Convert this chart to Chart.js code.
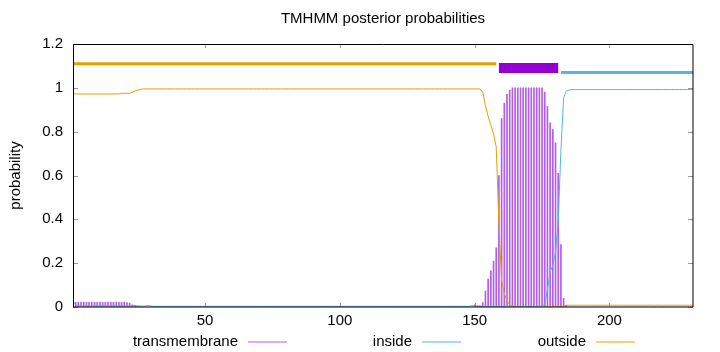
<!DOCTYPE html>
<html>
<head>
<meta charset="utf-8">
<title>TMHMM posterior probabilities</title>
<script src="https://cdn.jsdelivr.net/npm/chart.js@4/dist/chart.umd.min.js"></script>
<style>
  html, body { margin: 0; padding: 0; background: #fff; }
  #tmChart { display: block; }
</style>
</head>
<body>
<canvas id="tmChart" width="720" height="352"></canvas>
<script>
// posterior probabilities per residue (1..231)
const transmembrane = [
  0.022, 0.022, 0.022, 0.022, 0.022, 0.022, 0.022, 0.022, 0.022, 0.022, // 1-10
  0.022, 0.022, 0.022, 0.022, 0.022, 0.022, 0.022, 0.022, 0.022, 0.022, // 11-20
  0.020, 0.018, 0.010, 0.006, 0.004, 0.002, 0, 0, 0, 0,                 // 21-30
  0, 0, 0, 0, 0, 0, 0, 0, 0, 0,   // 31-40
  0, 0, 0, 0, 0, 0, 0, 0, 0, 0,   // 41-50
  0, 0, 0, 0, 0, 0, 0, 0, 0, 0,   // 51-60
  0, 0, 0, 0, 0, 0, 0, 0, 0, 0,   // 61-70
  0, 0, 0, 0, 0, 0, 0, 0, 0, 0,   // 71-80
  0, 0, 0, 0, 0, 0, 0, 0, 0, 0,   // 81-90
  0, 0, 0, 0, 0, 0, 0, 0, 0, 0,   // 91-100
  0, 0, 0, 0, 0, 0, 0, 0, 0, 0,   // 101-110
  0, 0, 0, 0, 0, 0, 0, 0, 0, 0,   // 111-120
  0, 0, 0, 0, 0, 0, 0, 0, 0, 0,   // 121-130
  0, 0, 0, 0, 0, 0, 0, 0, 0, 0,   // 131-140
  0, 0, 0, 0, 0, 0, 0, 0, 0, 0.010, // 141-150
  0.003, 0.005, 0.020, 0.073, 0.127, 0.165, 0.209, 0.270, 0.600, 0.860, // 151-160
  0.930, 0.970, 0.990, 1, 1, 1, 1, 1, 1, 1,                             // 161-170
  1, 1, 1, 1, 1, 0.980, 0.915, 0.840, 0.810, 0.750,                     // 171-180
  0.610, 0.285, 0.040, 0.008, 0, 0, 0, 0, 0, 0,                         // 181-190
  0, 0, 0, 0, 0, 0, 0, 0, 0, 0,   // 191-200
  0, 0, 0, 0, 0, 0, 0, 0, 0, 0,   // 201-210
  0, 0, 0, 0, 0, 0, 0, 0, 0, 0,   // 211-220
  0, 0, 0, 0, 0, 0, 0, 0, 0, 0,   // 221-230
  0                               // 231
];

const inside = [
  0.026, 0.010, 0.006, 0.005, 0.005, 0.005, 0.005, 0.005, 0.005, 0.005, // 1-10
  0.005, 0.005, 0.005, 0.005, 0.005, 0.005, 0.005, 0.005, 0.005, 0.005, // 11-20
  0.005, 0.005, 0.008, 0.006, 0.005, 0.004, 0.004, 0.005, 0.008, 0.004, // 21-30
  0.003, 0.003, 0.003, 0.003, 0.003, 0.003, 0.003, 0.003, 0.003, 0.003, // 31-40
  0.003, 0.003, 0.003, 0.003, 0.003, 0.003, 0.003, 0.003, 0.003, 0.003, // 41-50
  0.003, 0.003, 0.003, 0.003, 0.003, 0.003, 0.003, 0.003, 0.003, 0.003, // 51-60
  0.003, 0.003, 0.003, 0.003, 0.003, 0.003, 0.003, 0.003, 0.003, 0.003, // 61-70
  0.003, 0.003, 0.003, 0.003, 0.003, 0.003, 0.003, 0.003, 0.003, 0.003, // 71-80
  0.003, 0.003, 0.003, 0.003, 0.003, 0.003, 0.003, 0.003, 0.003, 0.003, // 81-90
  0.003, 0.003, 0.003, 0.003, 0.003, 0.003, 0.003, 0.003, 0.003, 0.003, // 91-100
  0.003, 0.003, 0.003, 0.003, 0.003, 0.003, 0.003, 0.003, 0.003, 0.003, // 101-110
  0.003, 0.003, 0.003, 0.003, 0.003, 0.003, 0.003, 0.003, 0.003, 0.003, // 111-120
  0.003, 0.003, 0.003, 0.003, 0.003, 0.003, 0.003, 0.003, 0.003, 0.003, // 121-130
  0.003, 0.003, 0.003, 0.003, 0.003, 0.003, 0.003, 0.003, 0.003, 0.003, // 131-140
  0.003, 0.003, 0.003, 0.003, 0.003, 0.003, 0.003, 0.003, 0.006, 0.006, // 141-150
  0.006, 0.004, 0.001, 0.001, 0.001, 0.001, 0.001, 0.001, 0.001, 0.001, // 151-160
  0, 0, 0, 0, 0, 0, 0, 0, 0, 0,                                         // 161-170
  0, 0, 0, 0, 0, 0.015, 0.080, 0.160, 0.190, 0.250,                     // 171-180
  0.390, 0.715, 0.955, 0.985, 0.990, 0.992, 0.992, 0.992, 0.992, 0.992, // 181-190
  0.992, 0.992, 0.992, 0.992, 0.992, 0.992, 0.992, 0.992, 0.992, 0.992, // 191-200
  0.992, 0.992, 0.992, 0.992, 0.992, 0.992, 0.992, 0.992, 0.992, 0.992, // 201-210
  0.992, 0.992, 0.992, 0.992, 0.992, 0.992, 0.992, 0.992, 0.992, 0.992, // 211-220
  0.992, 0.992, 0.992, 0.992, 0.992, 0.992, 0.992, 0.992, 0.992, 0.992, // 221-230
  0.992                                                                  // 231
];

const outside = [
  0.972, 0.972, 0.972, 0.972, 0.972, 0.972, 0.972, 0.972, 0.972, 0.972, // 1-10
  0.972, 0.972, 0.972, 0.972, 0.972, 0.972, 0.972, 0.972, 0.975, 0.975, // 11-20
  0.975, 0.975, 0.980, 0.986, 0.990, 0.993, 0.995, 0.995, 0.995, 0.995, // 21-30
  0.995, 0.995, 0.995, 0.995, 0.995, 0.995, 0.995, 0.995, 0.995, 0.995, // 31-40
  0.995, 0.995, 0.995, 0.995, 0.995, 0.995, 0.995, 0.995, 0.995, 0.995, // 41-50
  0.995, 0.995, 0.995, 0.995, 0.995, 0.995, 0.995, 0.995, 0.995, 0.995, // 51-60
  0.995, 0.995, 0.995, 0.995, 0.995, 0.995, 0.995, 0.995, 0.995, 0.995, // 61-70
  0.995, 0.995, 0.995, 0.995, 0.995, 0.995, 0.995, 0.995, 0.995, 0.995, // 71-80
  0.995, 0.995, 0.995, 0.995, 0.995, 0.995, 0.995, 0.995, 0.995, 0.995, // 81-90
  0.995, 0.995, 0.995, 0.995, 0.995, 0.995, 0.995, 0.995, 0.995, 0.995, // 91-100
  0.995, 0.995, 0.995, 0.995, 0.995, 0.995, 0.995, 0.995, 0.995, 0.995, // 101-110
  0.995, 0.995, 0.995, 0.995, 0.995, 0.995, 0.995, 0.995, 0.995, 0.995, // 111-120
  0.995, 0.995, 0.995, 0.995, 0.995, 0.995, 0.995, 0.995, 0.995, 0.995, // 121-130
  0.995, 0.995, 0.995, 0.995, 0.995, 0.995, 0.995, 0.995, 0.995, 0.995, // 131-140
  0.995, 0.995, 0.995, 0.995, 0.995, 0.995, 0.995, 0.995, 0.995, 0.995, // 141-150
  0.995, 0.995, 0.980, 0.920, 0.870, 0.830, 0.790, 0.730, 0.380, 0.120, // 151-160
  0.060, 0.030, 0.010, 0.004, 0, 0, 0, 0, 0, 0,                         // 161-170
  0, 0, 0, 0, 0, 0, 0, 0, 0, 0,                                         // 171-180
  0.001, 0.003, 0.005, 0.008, 0.008, 0.008, 0.008, 0.008, 0.008, 0.008, // 181-190
  0.008, 0.008, 0.008, 0.008, 0.008, 0.008, 0.008, 0.008, 0.008, 0.008, // 191-200
  0.008, 0.008, 0.008, 0.008, 0.008, 0.008, 0.008, 0.008, 0.008, 0.008, // 201-210
  0.008, 0.008, 0.008, 0.008, 0.008, 0.008, 0.008, 0.008, 0.008, 0.008, // 211-220
  0.008, 0.008, 0.008, 0.008, 0.008, 0.008, 0.008, 0.008, 0.008, 0.008, // 221-230
  0.008                                                                  // 231
];

// predicted topology: region, first and last residue
const topoRegion = ["outside", "TMhelix", "inside"];
const topoStart = [1, 159, 182];
const topoEnd = [158, 181, 231];

const xTicks = [50, 100, 150, 200];
const yTicks = [0, 0.2, 0.4, 0.6, 0.8, 1, 1.2];
const legendLabels = ["transmembrane", "inside", "outside"];

const residues = transmembrane.map((_, i) => i + 1);
const toXY = (vals) => vals.map((v, i) => ({ x: residues[i], y: v }));

const FONT = "'Liberation Sans', Arial, sans-serif";
Chart.defaults.font.family = FONT;
Chart.defaults.font.size = 15;
Chart.defaults.color = "#000";

const seriesColor = { transmembrane: "#b05ee3", inside: "#56b4e9", outside: "#e69f00" };

// topology strip drawn above the curves
const topoStyle = {
  outside: { y: 1.11, color: "#e69f00", width: 3 },
  TMhelix: { y: 1.09, color: "#9400d3", width: 10 },
  inside: { y: 1.07, color: "#56b4e9", width: 3 },
};
const topoSets = topoRegion.map((r, i) => ({
  type: "line",
  data: [
    { x: topoStart[i], y: topoStyle[r].y },
    { x: topoEnd[i], y: topoStyle[r].y },
  ],
  borderColor: topoStyle[r].color,
  borderWidth: topoStyle[r].width,
  pointRadius: 0,
  order: 0,
}));

// gnuplot-like frame, inward ticks, title and legend
const gnuplotFrame = {
  id: "gnuplotFrame",
  afterDraw(chart) {
    const { ctx, chartArea: a, scales: { x, y } } = chart;
    ctx.save();

    ctx.strokeStyle = "#999";
    ctx.lineWidth = 1;
    ctx.beginPath();
    yTicks.forEach((v) => {
      const py = Math.round(y.getPixelForValue(v)) + 0.5;
      ctx.moveTo(a.left, py); ctx.lineTo(a.left + 5, py);
      ctx.moveTo(a.right, py); ctx.lineTo(a.right - 5, py);
    });
    xTicks.forEach((v) => {
      const px = Math.round(x.getPixelForValue(v)) + 0.5;
      ctx.moveTo(px, a.bottom); ctx.lineTo(px, a.bottom - 4);
      ctx.moveTo(px, a.top); ctx.lineTo(px, a.top + 4);
    });
    ctx.stroke();

    ctx.strokeStyle = "#000";
    ctx.beginPath();
    ctx.moveTo(a.left + 0.5, a.bottom);
    ctx.lineTo(a.left + 0.5, a.top + 0.5);
    ctx.lineTo(a.right, a.top + 0.5);
    ctx.lineTo(a.right, a.bottom);
    ctx.lineTo(a.left, a.bottom);
    ctx.stroke();

    ctx.fillStyle = "#000";
    ctx.textBaseline = "middle";
    ctx.font = "15px " + FONT;
    ctx.textAlign = "center";
    ctx.fillText("TMHMM posterior probabilities", (a.left + a.right) / 2, 19);

    ctx.save();
    ctx.translate(16, (a.top + a.bottom) / 2);
    ctx.rotate(-Math.PI / 2);
    ctx.fillText("probability", 0, 0);
    ctx.restore();

    // legend: text right-aligned, line sample on its right
    ctx.textAlign = "right";
    legendLabels.forEach((label, i) => {
      const tx = 238 + i * 174;
      ctx.fillStyle = "#000";
      ctx.fillText(label, tx, 342);
      ctx.strokeStyle = seriesColor[label];
      ctx.beginPath();
      ctx.moveTo(tx + 10, 342);
      ctx.lineTo(tx + 49, 342);
      ctx.stroke();
    });
    ctx.restore();
  },
};

new Chart(document.getElementById("tmChart"), {
  type: "line",
  data: {
    datasets: [
      ...topoSets,
      {
        label: "inside",
        data: toXY(inside),
        borderColor: seriesColor.inside,
        borderWidth: 1,
        pointRadius: 0,
        order: 1,
      },
      {
        label: "outside",
        data: toXY(outside),
        borderColor: seriesColor.outside,
        borderWidth: 1,
        pointRadius: 0,
        order: 1,
      },
      {
        type: "bar",
        label: "transmembrane",
        data: toXY(transmembrane),
        backgroundColor: seriesColor.transmembrane,
        barThickness: 1,
        grouped: false,
        order: 2,
      },
    ],
  },
  options: {
    responsive: false,
    animation: false,
    devicePixelRatio: 1,
    layout: { padding: { top: 44, right: 27, bottom: 0, left: 0 } },
    plugins: {
      legend: { display: false },
      title: { display: false },
      tooltip: { enabled: false },
    },
    scales: {
      x: {
        type: "linear",
        min: 1,
        max: 231,
        offset: false,
        grid: { display: false, drawTicks: false },
        border: { display: false },
        ticks: { padding: 5, maxRotation: 0, autoSkip: false },
        afterBuildTicks: (s) => { s.ticks = xTicks.map((v) => ({ value: v })); },
        afterFit: (s) => { s.height = 45; },
      },
      y: {
        min: 0,
        max: 1.2,
        grid: { display: false, drawTicks: false },
        border: { display: false },
        ticks: { padding: 10, callback: (v) => String(+v.toFixed(1)) },
        afterBuildTicks: (s) => { s.ticks = yTicks.map((v) => ({ value: v })); },
        afterFit: (s) => { s.width = 73; },
      },
    },
  },
  plugins: [gnuplotFrame],
});
</script>
</body>
</html>
